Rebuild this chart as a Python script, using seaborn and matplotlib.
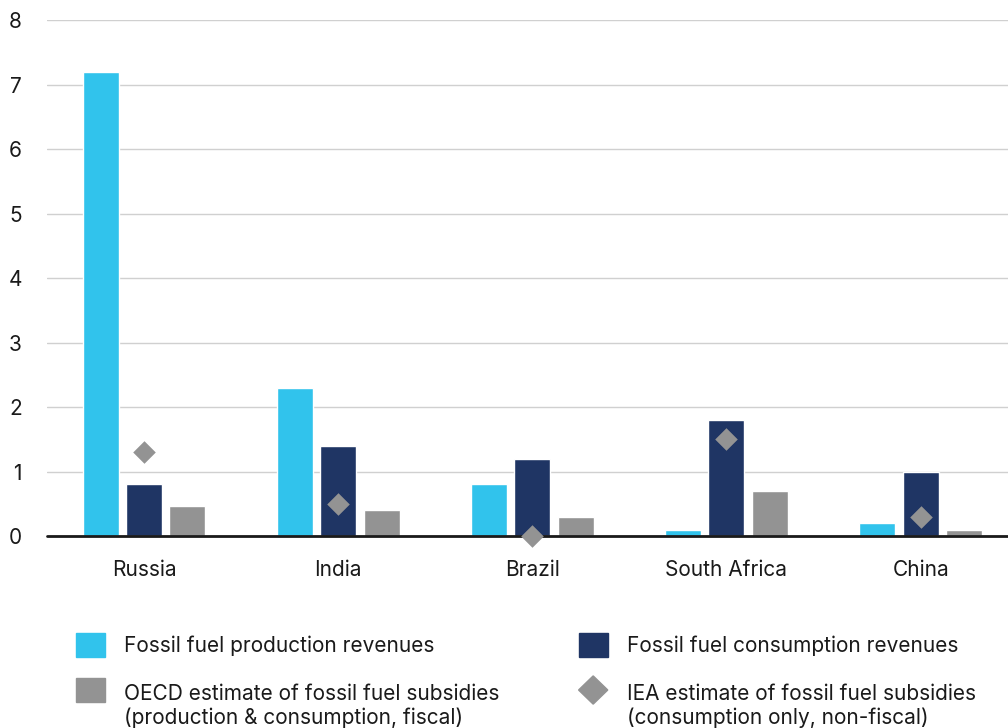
import numpy as np
import pandas as pd
import matplotlib
matplotlib.use("Agg")
import matplotlib.pyplot as plt
import seaborn as sns
from matplotlib.patches import Patch, Rectangle, Polygon
from matplotlib.legend_handler import HandlerPatch

# data
countries = ["Russia", "India", "Brazil", "South Africa", "China"]
production = [7.2, 2.3, 0.8, 0.1, 0.2]
consumption = [0.8, 1.4, 1.2, 1.8, 1.0]
oecd = [0.47, 0.4, 0.3, 0.7, 0.1]
iea = [1.3, 0.5, 0.0, 1.5, 0.3]

labels = ["Fossil fuel production revenues",
          "Fossil fuel consumption revenues",
          "OECD estimate of fossil fuel subsidies\n(production & consumption, fiscal)",
          "IEA estimate of fossil fuel subsidies\n(consumption only, non-fiscal)"]
colors = ["#31C3EC", "#1F3564", "#939393", "#939393"]

sns.set_style("white")
plt.rcParams["font.family"] = ["Inter", "DejaVu Sans"]

df = pd.DataFrame({
    "country": countries * 3,
    "value": production + consumption + oecd,
    "series": [labels[0]] * 5 + [labels[1]] * 5 + [labels[2]] * 5,
})

fig = plt.figure(figsize=(10.08, 7.28), dpi=100)
ax = fig.add_axes([0.0466, 0.2637, 0.9534, 0.7088])

ax.set_axisbelow(True)
ax.grid(axis="y", color="#d0d0d0", lw=1)
sns.barplot(data=df, x="country", y="value", hue="series", palette=colors[:3],
            width=0.67, gap=0.17, saturation=1, legend=False, ax=ax)
ax.axhline(0, color="#1a1a1a", lw=2, zorder=3, clip_on=False)
sns.stripplot(x=countries, y=iea, marker="D", jitter=False, color=colors[3],
              size=11.5, linewidth=0, zorder=5, ax=ax)
for c in ax.collections:
    c.set_clip_on(False)

ax.set_xlim(-0.5, 4.45)
ax.set_ylim(0, 8)
ax.set_yticks(range(0, 9))
ax.set_xlabel("")
ax.set_ylabel("")
sns.despine(ax=ax, left=True, bottom=True)
ax.tick_params(axis="y", length=0, pad=18, labelsize=15, labelcolor="#1a1a1a")
ax.tick_params(axis="x", length=0, pad=17, labelsize=15, labelcolor="#1a1a1a")

LIFT = 12.5  # raise handle of two-line entries to the first text line


def square(legend, orig_handle, xdescent, ydescent, width, height, fontsize):
    return Rectangle((-xdescent, -ydescent), width, height)


def square_top(legend, orig_handle, xdescent, ydescent, width, height, fontsize):
    return Rectangle((-xdescent, -ydescent + LIFT), width, height)


def diamond_top(legend, orig_handle, xdescent, ydescent, width, height, fontsize):
    cx = -xdescent + width / 2
    cy = -ydescent + height / 2 + LIFT
    hw, hh = width / 2, height / 2 + 1.5
    return Polygon([(cx, cy + hh), (cx + hw, cy), (cx, cy - hh), (cx - hw, cy)])


opts = dict(handlelength=1.4, handleheight=1.4, handletextpad=0.9,
            frameon=False, borderpad=0, borderaxespad=0, labelspacing=1.33,
            fontsize=15, labelcolor="#1a1a1a", loc="upper left")

h1 = [Patch(color=colors[0]), Patch(color=colors[2])]
fig.legend(h1, [labels[0], labels[2]], bbox_to_anchor=(0.075, 0.131),
           handler_map={h1[0]: HandlerPatch(patch_func=square),
                        h1[1]: HandlerPatch(patch_func=square_top)}, **opts)
h2 = [Patch(color=colors[1]), Patch(color=colors[3])]
fig.legend(h2, [labels[1], labels[3]], bbox_to_anchor=(0.574, 0.131),
           handler_map={h2[0]: HandlerPatch(patch_func=square),
                        h2[1]: HandlerPatch(patch_func=diamond_top)}, **opts)

fig.savefig("out.png", dpi=100)
